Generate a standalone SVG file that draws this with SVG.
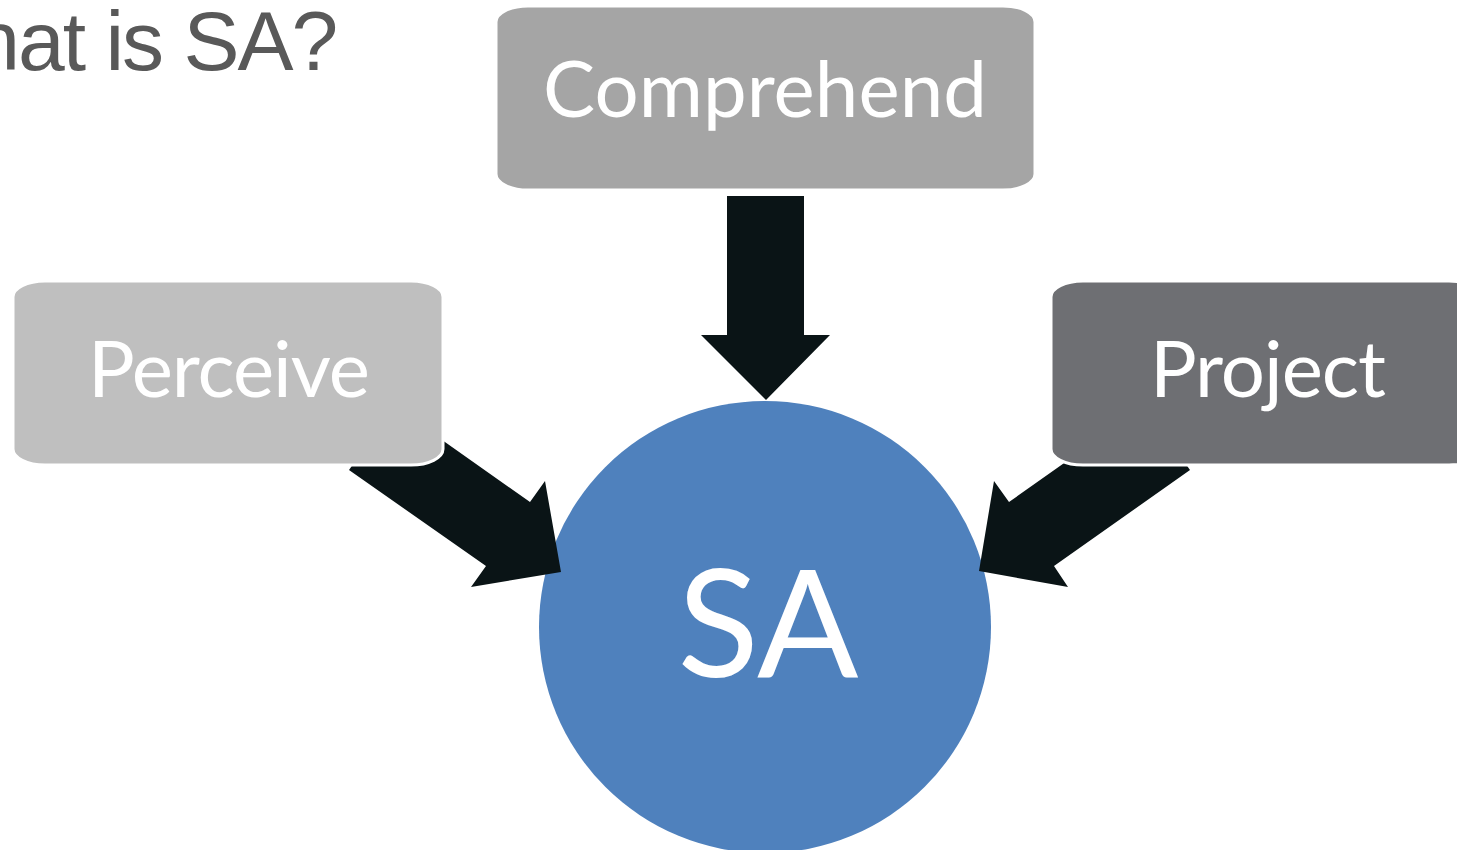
<svg xmlns="http://www.w3.org/2000/svg" width="1457" height="850" viewBox="0 0 1457 850">
  <style>
    .box { stroke: #FFFFFF; stroke-width: 3; }
    .lbl { font-family: Lato, "Open Sans", "Liberation Sans", sans-serif; fill: #FFFFFF; text-anchor: middle; }
    .arrow { fill: #0A1416; }
  </style>
  <rect width="1457" height="850" fill="#FFFFFF"/>
  <text x="-104" y="70" font-family="'Liberation Sans', Arial, sans-serif" font-size="84" letter-spacing="-2" fill="#595959">What is SA?</text>

  <g id="sa">
    <circle cx="765" cy="627" r="226" fill="#4F81BD"/>
    <text class="lbl" x="768" y="677" font-size="150">SA</text>
  </g>

  <g id="connectors">
    <polygon class="arrow" points="727,196 804,196 804,335 830,335 766,400 701,335 727,335"/>
    <polygon class="arrow" points="394,406 530,502 545,481 561,572 471,587 486,566 349,470"/>
    <polygon class="arrow" points="1145,406 1009,502 994,481 979,571 1068,587 1054,566 1190,470"/>
  </g>

  <g id="comprehend">
    <path class="box" fill="#A5A5A5" d="M528,6 H1003 A32,16 0 0 1 1035,22 V174 A32,16 0 0 1 1003,190 H528 A32,16 0 0 1 496,174 V22 A32,16 0 0 1 528,6 Z"/>
    <text class="lbl" x="765" y="117" font-size="78" textLength="444">Comprehend</text>
  </g>

  <g id="perceive">
    <path class="box" fill="#BFBFBF" d="M45,281 H411 A32,16 0 0 1 443,297 V449 A32,16 0 0 1 411,465 H45 A32,16 0 0 1 13,449 V297 A32,16 0 0 1 45,281 Z"/>
    <text class="lbl" x="229" y="397" font-size="78" textLength="282">Perceive</text>
  </g>

  <g id="project">
    <path class="box" fill="#6E6F73" d="M1083,281 H1449 A32,16 0 0 1 1481,297 V449 A32,16 0 0 1 1449,465 H1083 A32,16 0 0 1 1051,449 V297 A32,16 0 0 1 1083,281 Z"/>
    <text class="lbl" x="1268" y="397" font-size="78" textLength="236">Project</text>
  </g>
</svg>
